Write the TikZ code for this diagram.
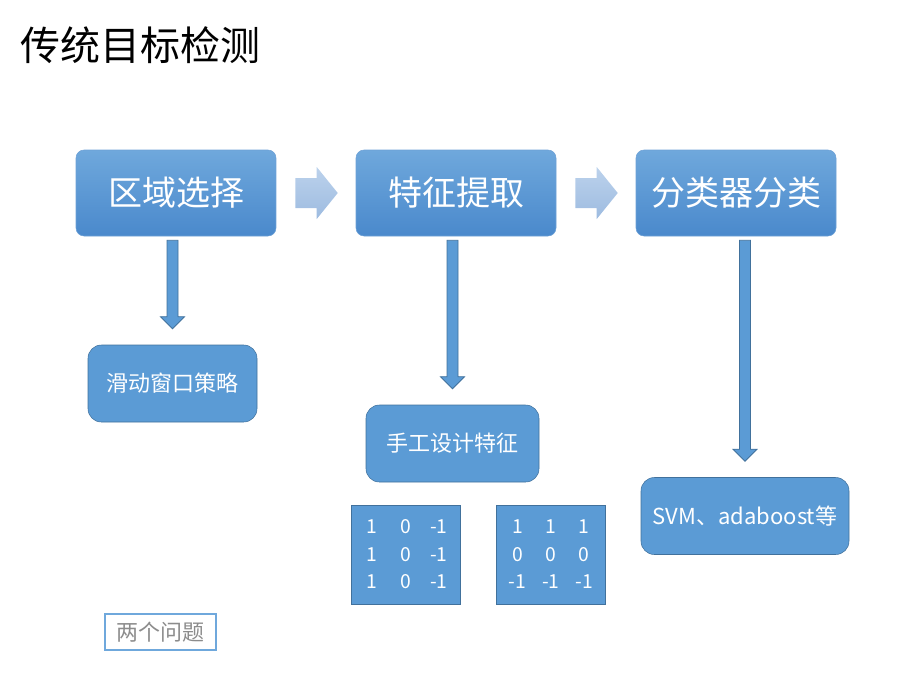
\documentclass[tikz,border=0pt]{standalone}
\usepackage{fontspec}
\setmainfont{Noto Sans CJK SC}
\usetikzlibrary{positioning}
\usetikzlibrary{calc}
\definecolor{mytop}{HTML}{6FA8DC}
\definecolor{mybottom}{HTML}{4A89CC}
\definecolor{myblue}{HTML}{5B9BD5}
\definecolor{myborder}{HTML}{41719C}
\definecolor{mylighttop}{HTML}{BCD2EC}
\definecolor{mylightbottom}{HTML}{9DBBE0}
\definecolor{mygray}{HTML}{8C8C8C}
\tikzstyle{mybigbox}=[rounded corners=6pt,top color=mytop,bottom color=mybottom,draw=mybottom!80!white,
                      text=white,inner sep=0pt,minimum width=150pt,minimum height=64.5pt,
                      font=\fontsize{25.5}{30}\selectfont]
\tikzstyle{mysmallbox}=[rounded corners=10pt,fill=myblue,draw=myborder,text=white,inner sep=0pt,
                        minimum height=57.75pt,font=\fontsize{16.5}{20}\selectfont]
\tikzstyle{mymatrix}=[fill=myblue,draw=myborder,text=white,inner sep=0pt,align=center,
                      minimum width=81.5pt,minimum height=74.25pt,font=\fontsize{14.5}{20.6}\selectfont]
\tikzstyle{mylightarrow}=[top color=mylighttop,bottom color=mylightbottom,draw=none]
\tikzstyle{mydownarrow}=[fill=myblue,draw=myborder,line width=0.6pt]
\newcommand\mcell[1]{\makebox[25pt]{#1}}
% block arrow to the right, between two boxes
\def\blockright(#1)(#2){
  \path[mylightarrow] ($(#1.east)+(19,-15)$) -- ($(#2.west)+(-39,-15)$) -- ($(#2.west)+(-39,-26)$)
    -- ($(#2.west)+(-18,0)$) -- ($(#2.west)+(-39,26)$) -- ($(#2.west)+(-39,15)$)
    -- ($(#1.east)+(19,15)$) -- cycle;
}
% block arrow going down, from a box to the box under it
\def\blockdown(#1)(#2){
  \draw[mydownarrow] ($(#1.south -| #2.north)+(-5.5,4)$) -- ($(#2.north)+(-5.5,-28)$)
    -- ($(#2.north)+(-12,-28)$) -- ($(#2.north)+(0,-16)$) -- ($(#2.north)+(12,-28)$)
    -- ($(#2.north)+(5.5,-28)$) -- ($(#1.south -| #2.north)+(5.5,4)$) -- cycle;
}

\begin{document}
\begin{tikzpicture}[x=0.75pt,y=-0.75pt]
  \useasboundingbox (0,0) rectangle (920,690);

  % TITLE
  \node[anchor=west,inner sep=0pt,font=\fontsize{30}{34}\selectfont] (title) at (20,45) {传统目标检测};

  % top row
  \node[mybigbox] (region) at (176,193) {区域选择};
  \node[mybigbox] (feature) at (456,193) {特征提取};
  \node[mybigbox] (classify) at (736,193) {分类器分类};
  \blockright(region)(feature)
  \blockright(feature)(classify)

  % under the top row
  \node[mysmallbox,minimum width=126.75pt] (window) at (172.5,383.5) {滑动窗口策略};
  \node[mysmallbox,minimum width=129.75pt] (hand) at (452.5,443.5) {手工设计特征};
  \node[mysmallbox,minimum width=156pt] (svm) at (745,516) {SVM、adaboost等};
  \blockdown(region)(window)
  \blockdown(feature)(hand)
  \blockdown(classify)(svm)

  % kernels
  \node[mymatrix] (kx) at (405.5,554.5) {
    \mcell{1}\mcell{0}\mcell{-1}\\
    \mcell{1}\mcell{0}\mcell{-1}\\
    \mcell{1}\mcell{0}\mcell{-1}
  };
  \node[mymatrix] (ky) at (551,554.5) {
    \mcell{1}\mcell{1}\mcell{1}\\
    \mcell{0}\mcell{0}\mcell{0}\\
    \mcell{-1}\mcell{-1}\mcell{-1}
  };

  % LABELS
  \node[draw=mytop,line width=1pt,text=mygray,inner sep=0pt,minimum width=83.25pt,minimum height=27pt,
        font=\fontsize{16.5}{20}\selectfont] (questions) at (160.5,632) {两个问题};
\end{tikzpicture}
\end{document}
